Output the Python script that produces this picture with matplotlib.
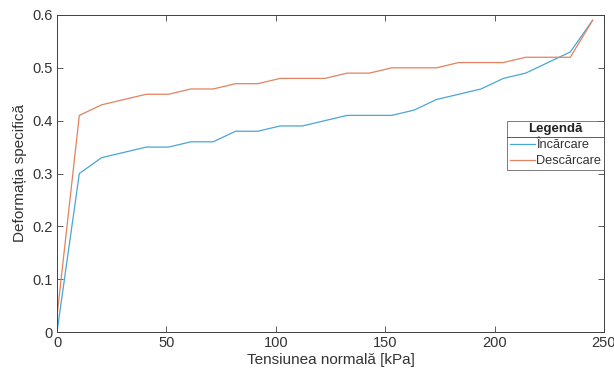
import matplotlib
matplotlib.use("Agg")
import matplotlib.pyplot as plt
from matplotlib.lines import Line2D

x_kpa = [0, 10.2, 20.4, 30.6, 40.8, 51.0, 61.2, 71.4, 81.6, 91.8, 102.0, 112.2, 122.4,
         132.6, 142.8, 153.0, 163.2, 173.4, 183.6, 193.8, 204.0, 214.2, 224.4, 234.6, 244.8]
incarcare = [0, 0.30, 0.33, 0.34, 0.35, 0.35, 0.36, 0.36, 0.38, 0.38, 0.39, 0.39, 0.40,
             0.41, 0.41, 0.41, 0.42, 0.44, 0.45, 0.46, 0.48, 0.49, 0.51, 0.53, 0.59]
descarcare = [0.03, 0.41, 0.43, 0.44, 0.45, 0.45, 0.46, 0.46, 0.47, 0.47, 0.48, 0.48, 0.48,
              0.49, 0.49, 0.50, 0.50, 0.50, 0.51, 0.51, 0.51, 0.52, 0.52, 0.52, 0.59]
x_ticks = [0, 50, 100, 150, 200, 250]
y_ticks = [0, 0.1, 0.2, 0.3, 0.4, 0.5, 0.6]
series_names = ["Încărcare", "Descărcare"]
legend_title = "Legendă"

plt.rcParams['font.family'] = ['Liberation Sans', 'DejaVu Sans']

fig = plt.figure(figsize=(6.14, 3.81), dpi=100)
ax = fig.add_axes([57/614, 1 - 332/381, (604 - 57)/614, (332 - 15)/381])

c_blue = '#4AA6D3'
c_orange = '#E2825E'
ax.plot(x_kpa, incarcare, color=c_blue, lw=0.9, label=series_names[0])
ax.plot(x_kpa, descarcare, color=c_orange, lw=0.9, label=series_names[1])

ax.set_xlim(0, 250)
ax.set_ylim(0, 0.6)
ax.set_xticks(x_ticks)
ax.set_yticks(y_ticks)
ax.set_xticklabels([str(t) for t in x_ticks])
ax.set_yticklabels([("%g" % t) for t in y_ticks])
ax.tick_params(direction='in', top=True, right=True, length=4, width=0.6,
               colors='#404040', labelsize=10.5, labelcolor='#333333', pad=3)
for s in ax.spines.values():
    s.set_color('#404040')
    s.set_linewidth(0.7)

ax.set_xlabel("Tensiunea normală [kPa]", fontsize=11, color='#333333', labelpad=2)
ax.set_ylabel("Deformația specifică", fontsize=11, color='#333333', labelpad=4)

leg = ax.legend(loc='upper right', bbox_to_anchor=(1.0, 0.666), title=legend_title,
                fontsize=9.2, title_fontproperties={'weight': 'bold', 'size': 9.5},
                frameon=True, fancybox=False, borderpad=0.2, handlelength=1.95,
                handletextpad=0.15, labelspacing=0.3, borderaxespad=0)
leg.get_frame().set_edgecolor('#404040')
leg.get_frame().set_linewidth(0.6)
for t in leg.get_texts():
    t.set_color('#333333')
leg.get_title().set_color('#222222')

fig.canvas.draw()
fb = leg.get_frame().get_window_extent()
tb = leg.get_title().get_window_extent()
inv = fig.transFigure.inverted()
yline = tb.y0 - 1.5
(x0, y0) = inv.transform((fb.x0, yline))
(x1, _) = inv.transform((fb.x1, yline))
fig.add_artist(Line2D([x0, x1], [y0, y0], color='#404040', lw=0.6, transform=fig.transFigure))

fig.savefig("out.png", dpi=100)
